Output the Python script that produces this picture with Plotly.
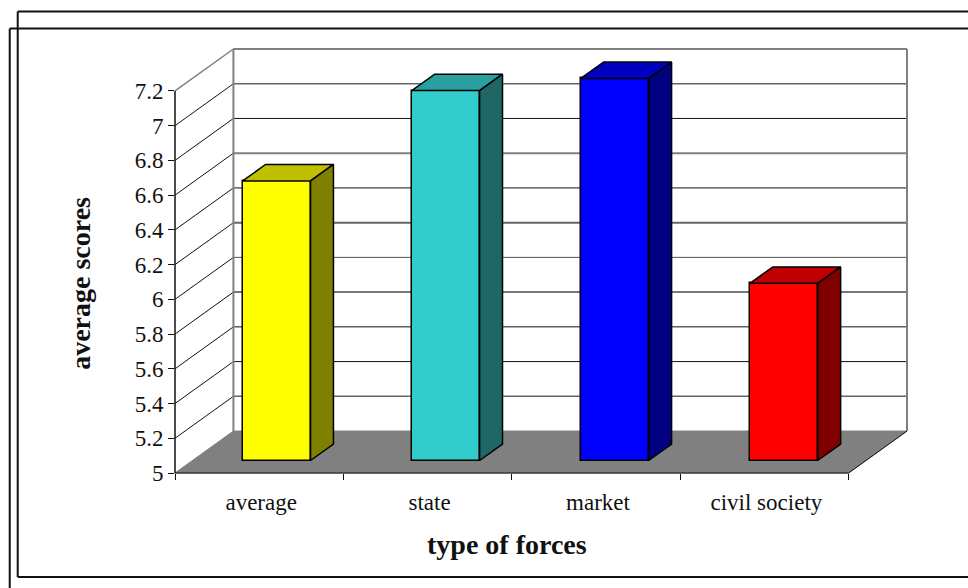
import plotly.graph_objects as go

# Chart values
categories = ["average", "state", "market", "civil society"]
scores = [6.61, 7.13, 7.2, 6.02]
y_ticks = [5, 5.2, 5.4, 5.6, 5.8, 6, 6.2, 6.4, 6.6, 6.8, 7, 7.2]
y_tick_labels = ["5", "5.2", "5.4", "5.6", "5.8", "6", "6.2", "6.4", "6.6", "6.8", "7", "7.2"]

face_colors = ["#FFFF00", "#33CCCC", "#0000FF", "#FF0000"]
top_colors = ["#C0C000", "#299F9F", "#0000C0", "#C00000"]
side_colors = ["#808000", "#1F6666", "#000080", "#800000"]

# Back-wall gridline strokes for 5.2 .. 7.0, colour and width
grid_colors = ["#666666", "#111111", "#111111", "#777777", "#555555",
               "#666666", "#111111", "#808080", "#111111", "#666666"]
grid_widths = [1.5, 1, 1, 2, 1, 2, 1, 2, 1, 1.5]

# Oblique projection: full floor depth expressed in axis units
DEPTH_X = 58.5 / 168.625
DEPTH_Y = 42 / 173.85
Y_MIN, Y_MAX = 5, 7.2
BAR_WIDTH = 0.403
BAR_PITCH = 1.004
BAR_DEPTH_FRONT = 0.298
BAR_DEPTH_BACK = 0.69

W, H = 968, 588
LEFT, RIGHT, TOP, BOTTOM = 174.5, 60.5, 48.5, 115
n = len(categories)
x_span = n + DEPTH_X
y_span = Y_MAX - Y_MIN + DEPTH_Y


def project(cat, value, depth=0.0):
    """Map (category position, value, depth 0..1) to axis coordinates."""
    return cat + depth * DEPTH_X, value + depth * DEPTH_Y


def to_paper(cat, value, depth=0.0):
    x, y = project(cat, value, depth)
    return x / x_span, (y - Y_MIN) / y_span


def polygon_path(points):
    coords = [to_paper(*p) for p in points]
    return "M" + "L".join(f"{x:.5f},{y:.5f}" for x, y in coords) + "Z"


def line_shape(a, b, color, width):
    (x0, y0), (x1, y1) = to_paper(*a), to_paper(*b)
    return dict(type="line", xref="paper", yref="paper", x0=x0, y0=y0, x1=x1, y1=y1,
                layer="below", line=dict(color=color, width=width))


shapes = []
# Floor
shapes.append(dict(type="path", xref="paper", yref="paper", layer="below",
                   path=polygon_path([(0, Y_MIN), (0, Y_MIN, 1), (n, Y_MIN, 1), (n, Y_MIN)]),
                   fillcolor="#808080", line=dict(color="#808080", width=1)))
# Gridlines on the two walls
for v, grid_color, grid_width in zip(y_ticks[1:-1], grid_colors, grid_widths):
    shapes.append(line_shape((0, v), (0, v, 1), "#111111", 1))
    shapes.append(line_shape((0, v, 1), (n, v, 1), grid_color, grid_width))
# Wall outlines
WALL = "#808080"
shapes.append(line_shape((0, Y_MAX), (0, Y_MAX, 1), WALL, 1.5))
shapes.append(line_shape((0, Y_MAX, 1), (n, Y_MAX, 1), WALL, 2))
shapes.append(line_shape((0, Y_MIN, 1), (0, Y_MAX, 1), WALL, 2))
shapes.append(line_shape((n, Y_MIN, 1), (n, Y_MAX, 1), WALL, 2))
# Front edges of the floor and the value axis line
shapes.append(line_shape((0, Y_MIN), (0, Y_MAX), "#111111", 1.5))
shapes.append(line_shape((0, Y_MIN), (n, Y_MIN), "#111111", 1))
shapes.append(line_shape((n, Y_MIN), (n, Y_MIN, 1), "#111111", 1))


def px_x(p):
    return (p - LEFT) / (W - LEFT - RIGHT)


def px_y(p):
    return (H - BOTTOM - p) / (H - TOP - BOTTOM)


# Double page frame around the chart
FRAME = dict(color="#111111", width=2)
for x0, y0, x1, y1 in [(17, 11, 980, 11), (17, 11, 17, 577), (17, 577, 980, 577),
                       (9, 28, 980, 28), (9, 28, 9, 600)]:
    shapes.append(dict(type="line", xref="paper", yref="paper", layer="above",
                       x0=px_x(x0), y0=px_y(y0), x1=px_x(x1), y1=px_y(y1), line=FRAME))

fig = go.Figure()

# Front faces of the bars
centers = [i + 0.5 for i in range(n)]
bar_centers = [0.5 + i * BAR_PITCH for i in range(n)]
front_x = [project(c, 0, BAR_DEPTH_FRONT)[0] for c in bar_centers]
front_base = Y_MIN + BAR_DEPTH_FRONT * DEPTH_Y
fig.add_trace(go.Bar(
    x=front_x,
    y=[s - Y_MIN for s in scores],
    base=front_base,
    width=BAR_WIDTH,
    marker=dict(color=face_colors, line=dict(color="#000000", width=1.5)),
    cliponaxis=False,
    showlegend=False,
    hoverinfo="skip",
))


def add_face(points, color):
    xy = [project(*p) for p in points + [points[0]]]
    fig.add_trace(go.Scatter(
        x=[p[0] for p in xy], y=[p[1] for p in xy],
        mode="lines", fill="toself", fillcolor=color,
        line=dict(color="#000000", width=1.5),
        cliponaxis=False, showlegend=False, hoverinfo="skip",
    ))


# Top and side faces of the bars
for c, s, top, side in zip(bar_centers, scores, top_colors, side_colors):
    l, r = c - BAR_WIDTH / 2, c + BAR_WIDTH / 2
    d0, d1 = BAR_DEPTH_FRONT, BAR_DEPTH_BACK
    add_face([(l, s, d0), (r, s, d0), (r, s, d1), (l, s, d1)], top)
    add_face([(r, Y_MIN, d0), (r, s, d0), (r, s, d1), (r, Y_MIN, d1)], side)

FONT = "Liberation Serif"
INK = "#111111"
fig.update_layout(
    width=W, height=H,
    margin=dict(l=LEFT, r=RIGHT, t=TOP, b=BOTTOM, autoexpand=False),
    paper_bgcolor="#FFFFFF", plot_bgcolor="rgba(0,0,0,0)",
    font=dict(family=FONT, color=INK, size=20),
    shapes=shapes,
    bargap=0,
    xaxis=dict(
        range=[0, x_span], showgrid=False, zeroline=False, showline=False,
        tickmode="array", tickvals=centers, ticktext=categories,
        ticks="outside", ticklen=8, tickwidth=1, tickcolor="rgba(0,0,0,0)",
        ticklabelshift=2,
        tickfont=dict(size=23, family=FONT),
        minor=dict(tickmode="array", tickvals=list(range(n + 1)), ticks="outside",
                   ticklen=6, tickwidth=1, tickcolor="#111111", showgrid=False),
        automargin=False,
    ),
    yaxis=dict(
        range=[Y_MIN, Y_MIN + y_span], showgrid=False, zeroline=False, showline=False,
        tickmode="array", tickvals=y_ticks, ticktext=y_tick_labels,
        ticks="outside", ticklen=6, tickwidth=1, tickcolor="#111111",
        tickfont=dict(size=23, family=FONT),
        automargin=False,
    ),
    annotations=[
        dict(text="<b>type of forces</b>", xref="paper", yref="paper",
             x=px_x(507), y=px_y(545), xanchor="center", yanchor="middle", showarrow=False,
             font=dict(size=28, family=FONT, color=INK)),
        dict(text="<b>average scores</b>", xref="paper", yref="paper",
             x=px_x(80), y=px_y(283), xanchor="center", yanchor="middle", showarrow=False,
             textangle=-90, font=dict(size=28, family=FONT, color=INK)),
    ],
)

fig.write_html("out.html", config=dict(displayModeBar=False))
